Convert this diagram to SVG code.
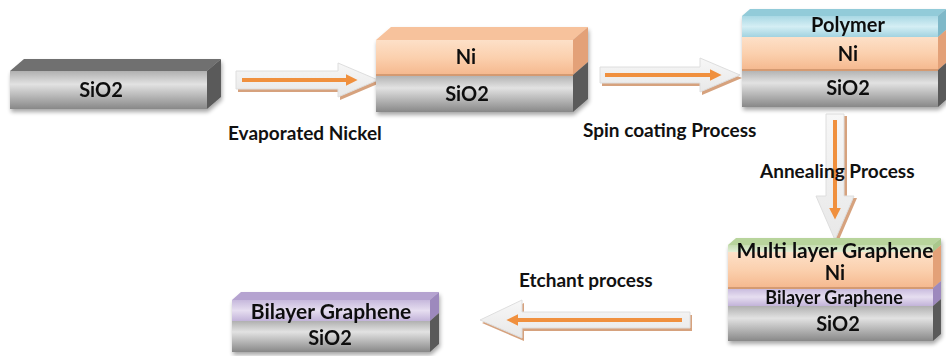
<svg xmlns="http://www.w3.org/2000/svg" width="946" height="356" viewBox="0 0 946 356">
<defs>
<linearGradient id="gSi" x1="0" y1="0" x2="0" y2="1"><stop offset="0" stop-color="#b0b0b0"/><stop offset="0.35" stop-color="#e2e2e2"/><stop offset="1" stop-color="#888888"/></linearGradient>
<linearGradient id="gNi" x1="0" y1="0" x2="0" y2="1"><stop offset="0" stop-color="#fde0c8"/><stop offset="0.5" stop-color="#fbd0ae"/><stop offset="1" stop-color="#f5b88e"/></linearGradient>
<linearGradient id="gPo" x1="0" y1="0" x2="0" y2="1"><stop offset="0" stop-color="#a9d8e4"/><stop offset="0.5" stop-color="#d4eef4"/><stop offset="1" stop-color="#a2d3e0"/></linearGradient>
<linearGradient id="gPu" x1="0" y1="0" x2="0" y2="1"><stop offset="0" stop-color="#c6b8dc"/><stop offset="0.5" stop-color="#e6def0"/><stop offset="1" stop-color="#c2b3d9"/></linearGradient>
<linearGradient id="gGr" x1="0" y1="0" x2="0" y2="1"><stop offset="0" stop-color="#c5dcb0"/><stop offset="1" stop-color="#e2efd6"/></linearGradient>
<linearGradient id="gAr" x1="0" y1="0" x2="0" y2="1"><stop offset="0" stop-color="#f7f7f7"/><stop offset="1" stop-color="#e8e8e8"/></linearGradient>
<filter id="sh" x="-10%" y="-20%" width="130%" height="150%"><feGaussianBlur in="SourceAlpha" stdDeviation="2"/><feOffset dx="1" dy="3"/><feComponentTransfer><feFuncA type="linear" slope="0.35"/></feComponentTransfer><feMerge><feMergeNode/><feMergeNode in="SourceGraphic"/></feMerge></filter>
<marker id="ah" viewBox="0 0 10 10" refX="2" refY="5" markerWidth="3" markerHeight="3" orient="auto" markerUnits="strokeWidth"><path d="M0,0 L10,5 L0,10 z" fill="#f0903e"/></marker>
</defs>
<style>
.lbl{font-family:Lato,"Liberation Sans",sans-serif;font-weight:bold;fill:#111;text-anchor:middle}
.big{font-size:20px}
.cap{font-size:19px;text-anchor:start}
.siTop{fill:#6f6f6f}
.siSide{fill:#5a5a5a}
.niTop{fill:#f7c29c}
.niSide{fill:#e3a178}
.poTop{fill:#92cbd9}
.poSide{fill:#7fb8c8}
.puTop{fill:#b5a3d0}
.puSide{fill:#9d89bd}
.grTop{fill:#b8d49c}
.body{fill:url(#gAr);stroke:#dedede;stroke-width:1}
.shadow{fill:#d6a27e}
.core{stroke:#f0903e;stroke-width:4;fill:none}
</style>

<g id="connectors">
<g id="arrow-evaporated">
<polygon class="shadow" points="238,74 340,74 340,66 380,83 340,100 340,92 238,92"/>
<polygon class="body" points="236,71 338,71 338,63 378,80 338,97 338,89 236,89"/>
<line class="core" x1="242" y1="80" x2="348" y2="80" marker-end="url(#ah)"/>
</g>
<g id="arrow-spin">
<polygon class="shadow" points="602,70 702,70 702,61 742,78 702,95 702,86 602,86"/>
<polygon class="body" points="600,67 700,67 700,58 740,75 700,92 700,83 600,83"/>
<line class="core" x1="605" y1="75" x2="712" y2="75" marker-end="url(#ah)"/>
</g>
<g id="arrow-anneal">
<polygon class="shadow" points="829,116 847,116 847,198 857,198 838,242 819,198 829,198"/>
<polygon class="body" points="826,114 844,114 844,196 854,196 835,240 816,196 826,196"/>
<line class="core" x1="835" y1="120" x2="835" y2="210" marker-end="url(#ah)"/>
</g>
<g id="arrow-etchant">
<polygon class="shadow" points="692,315 524,315 524,303 482,323 524,341 524,331 692,331"/>
<polygon class="body" points="690,312 522,312 522,300 480,320 522,338 522,328 690,328"/>
<line class="core" x1="682" y1="320" x2="516" y2="320" marker-end="url(#ah)"/>
</g>
</g>

<g id="sio2-substrate" filter="url(#sh)">
<polygon class="siTop" points="10,71 24,59 221,59 207,71"/>
<polygon class="siSide" points="207,71 221,59 221,97 207,109"/>
<rect x="10" y="71" width="197" height="38" fill="url(#gSi)"/>
<text class="lbl big" x="101" y="97">SiO2</text>
</g>

<g id="ni-on-sio2" filter="url(#sh)">
<polygon class="niTop" points="376,40 391,27 588,27 573,40"/>
<polygon class="niSide" points="573,40 588,27 588,62 573,75"/>
<polygon class="siSide" points="573,75 588,62 588,99 573,112"/>
<rect x="376" y="40" width="197" height="35" fill="url(#gNi)"/>
<rect x="376" y="75" width="197" height="37" fill="url(#gSi)"/>
<line x1="376" y1="75" x2="573" y2="75" stroke="#d49a72" stroke-width="2"/>
<text class="lbl big" x="466" y="64">Ni</text>
<text class="lbl big" x="467" y="101">SiO2</text>
</g>

<g id="polymer-stack" filter="url(#sh)">
<polygon class="poTop" points="742,16 750,9 946,9 938,16"/>
<polygon class="poSide" points="938,16 946,9 946,30 938,37"/>
<polygon class="niSide" points="938,37 946,30 946,63 938,70"/>
<polygon class="siSide" points="938,70 946,63 946,100 938,107"/>
<rect x="742" y="16" width="196" height="21" fill="url(#gPo)"/>
<rect x="742" y="37" width="196" height="33" fill="url(#gNi)"/>
<rect x="742" y="70" width="196" height="37" fill="url(#gSi)"/>
<line x1="742" y1="70" x2="938" y2="70" stroke="#d49a72" stroke-width="2"/>
<text class="lbl big" x="848" y="32">Polymer</text>
<text class="lbl big" x="848" y="61">Ni</text>
<text class="lbl big" x="848" y="95">SiO2</text>
</g>

<g id="multilayer-stack" filter="url(#sh)">
<polygon class="grTop" points="728,245 736,238 941,238 933,245"/>
<polygon fill="#a9c78c" points="933,245 941,238 941,245 933,252"/>
<polygon class="niSide" points="933,252 941,245 941,281 933,288"/>
<polygon class="puSide" points="933,288 941,281 941,299 933,306"/>
<polygon class="siSide" points="933,306 941,299 941,334 933,341"/>
<rect x="728" y="245" width="205" height="7" fill="url(#gGr)"/>
<rect x="728" y="252" width="205" height="36" fill="url(#gNi)"/>
<rect x="728" y="288" width="205" height="18" fill="url(#gPu)"/>
<rect x="728" y="306" width="205" height="35" fill="url(#gSi)"/>
<line x1="728" y1="288" x2="933" y2="288" stroke="#d49a72" stroke-width="2"/>
<text class="lbl" style="font-size:21px" x="835" y="258">Multi layer Graphene</text>
<text class="lbl big" x="835" y="280">Ni</text>
<text class="lbl" style="font-size:18px" x="834" y="304">Bilayer Graphene</text>
<text class="lbl big" x="838" y="331">SiO2</text>
</g>

<g id="bilayer-result" filter="url(#sh)">
<polygon class="puTop" points="232,300 241,292 439,292 430,300"/>
<polygon class="puSide" points="430,300 439,292 439,313 430,321"/>
<polygon class="siSide" points="430,321 439,313 439,344 430,352"/>
<rect x="232" y="300" width="198" height="21" fill="url(#gPu)"/>
<rect x="232" y="321" width="198" height="31" fill="url(#gSi)"/>
<text class="lbl" style="font-size:21px" x="331" y="319">Bilayer Graphene</text>
<text class="lbl big" x="330" y="345">SiO2</text>
</g>

<g id="labels">
<text class="lbl cap" x="228" y="140">Evaporated Nickel</text>
<text class="lbl cap" x="583" y="137">Spin coating Process</text>
<text class="lbl cap" x="760" y="178">Annealing Process</text>
<text class="lbl cap" x="519" y="287">Etchant process</text>
</g>
</svg>
